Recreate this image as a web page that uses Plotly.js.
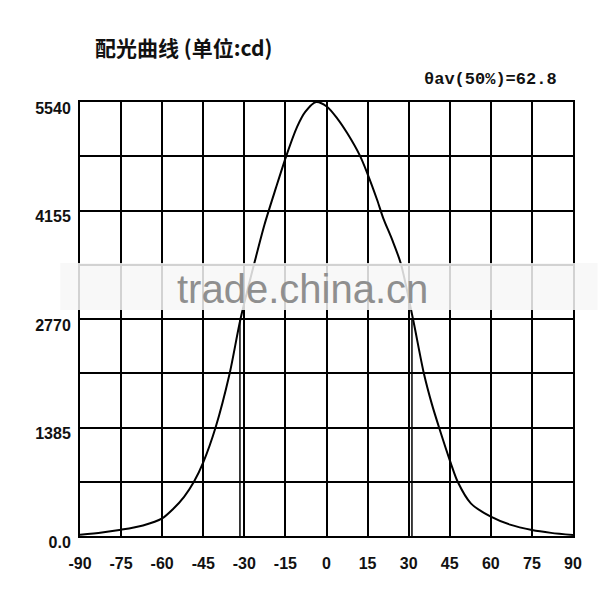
<!DOCTYPE html>
<html>
<head>
<meta charset="utf-8">
<script src="https://cdn.plot.ly/plotly-3.0.1.min.js"></script>
<style>
  body { margin: 0; background: #fff; }
  #chart { width: 600px; height: 600px; }
</style>
</head>
<body>
<div id="chart"></div>
<script>
// light distribution curve
var angles = [-90, -82, -75, -67, -60, -56, -52, -48.4, -45, -40.5, -35.4, -31.4, -26, -22.6, -18.5, -14.7, -10.7, -7.7, -3.8,
  0.2, 3.9, 7.6, 12.2, 14.9, 18.5, 20.7, 24, 27.1, 31.6, 35.6, 38.5, 41.1, 45.4, 47.9, 52.7, 60, 67, 75, 82, 90];
var intensity = [15, 45, 80, 135, 225, 345, 500, 692, 940, 1385, 2068, 2770, 3530, 3980, 4440, 4850, 5225, 5416, 5540,
  5480, 5331, 5140, 4855, 4630, 4289, 4058, 3780, 3481, 2766, 2068, 1680, 1385, 927, 692, 417, 246, 145, 76, 40, 13];

// half intensity angles (50%)
var halfAngles = [-31.6, 31.2];
var halfValue = 2770;

var xTicks = [-90, -75, -60, -45, -30, -15, 0, 15, 30, 45, 60, 75, 90];
var yTicks = [0, 692.5, 1385, 2077.5, 2770, 3462.5, 4155, 4847.5, 5540];
var yLabels = ['0.0', '', '1385', '', '2770', '', '4155', '', '5540'];

function bold(t) { return t !== '' ? '<b>' + t + '</b>' : ''; }

var halfX = [], halfY = [];
for (var i = 0; i < halfAngles.length; i++) {
  halfX.push(halfAngles[i], halfAngles[i], null);
  halfY.push(0, halfValue, null);
}

var curve = {
  x: angles,
  y: intensity,
  type: 'scatter',
  mode: 'lines',
  line: { color: '#000', width: 2, shape: 'spline', smoothing: 0.8 },
  hoverinfo: 'skip'
};

var halfLines = {
  x: halfX,
  y: halfY,
  type: 'scatter',
  mode: 'lines',
  line: { color: '#000', width: 1.5 },
  hoverinfo: 'skip'
};

var layout = {
  width: 600,
  height: 600,
  margin: { l: 80, r: 27, t: 102, b: 64 },
  paper_bgcolor: '#fff',
  plot_bgcolor: '#fff',
  showlegend: false,
  font: { family: 'Liberation Sans, Arial, sans-serif', color: '#000' },
  xaxis: {
    range: [-90, 90],
    tickvals: xTicks,
    ticktext: xTicks.map(function (v) { return bold(String(v)); }),
    ticks: '',
    ticklabelstandoff: 12,
    tickfont: { size: 16, color: '#111' },
    showgrid: true,
    gridcolor: '#000',
    gridwidth: 2,
    zeroline: false,
    showline: true,
    mirror: true,
    linecolor: '#000',
    linewidth: 2,
    fixedrange: true
  },
  yaxis: {
    range: [0, 5540],
    tickvals: yTicks,
    ticktext: yLabels.map(bold),
    ticks: '',
    ticklabelshift: 6,
    ticklabelstandoff: 4,
    tickfont: { size: 16, color: '#111' },
    showgrid: true,
    gridcolor: '#000',
    gridwidth: 2,
    zeroline: false,
    showline: true,
    mirror: true,
    linecolor: '#000',
    linewidth: 2,
    fixedrange: true
  },
  shapes: [{
    // watermark band
    type: 'rect',
    layer: 'above',
    xref: 'paper', yref: 'y',
    x0: -0.04, x1: 1.05,
    y0: 2885, y1: 3485,
    fillcolor: 'rgba(247,247,247,0.85)',
    line: { width: 0 }
  }],
  annotations: [{
    xref: 'paper', yref: 'paper',
    x: 0.026, y: 1.1256,
    xanchor: 'left', yanchor: 'middle',
    text: '<b>配光曲线 (单位:cd)</b>',
    showarrow: false,
    font: { family: 'Noto Sans CJK SC, sans-serif', size: 21, color: '#111' }
  }, {
    xref: 'paper', yref: 'paper',
    x: 0.9716, y: 1.0518,
    xanchor: 'right', yanchor: 'middle',
    text: '<b>θav(50%)=62.8</b>',
    showarrow: false,
    font: { family: 'Liberation Mono, monospace', size: 17, color: '#111' }
  }, {
    xref: 'paper', yref: 'y',
    x: 0.452, y: 3153,
    xanchor: 'center', yanchor: 'middle',
    text: 'trade.china.cn',
    showarrow: false,
    font: { family: 'Liberation Sans, Arial, sans-serif', size: 40, color: '#8f8f8f' }
  }]
};

var config = { displayModeBar: false, staticPlot: true };

Plotly.newPlot('chart', [curve, halfLines], layout, config);
</script>
</body>
</html>
